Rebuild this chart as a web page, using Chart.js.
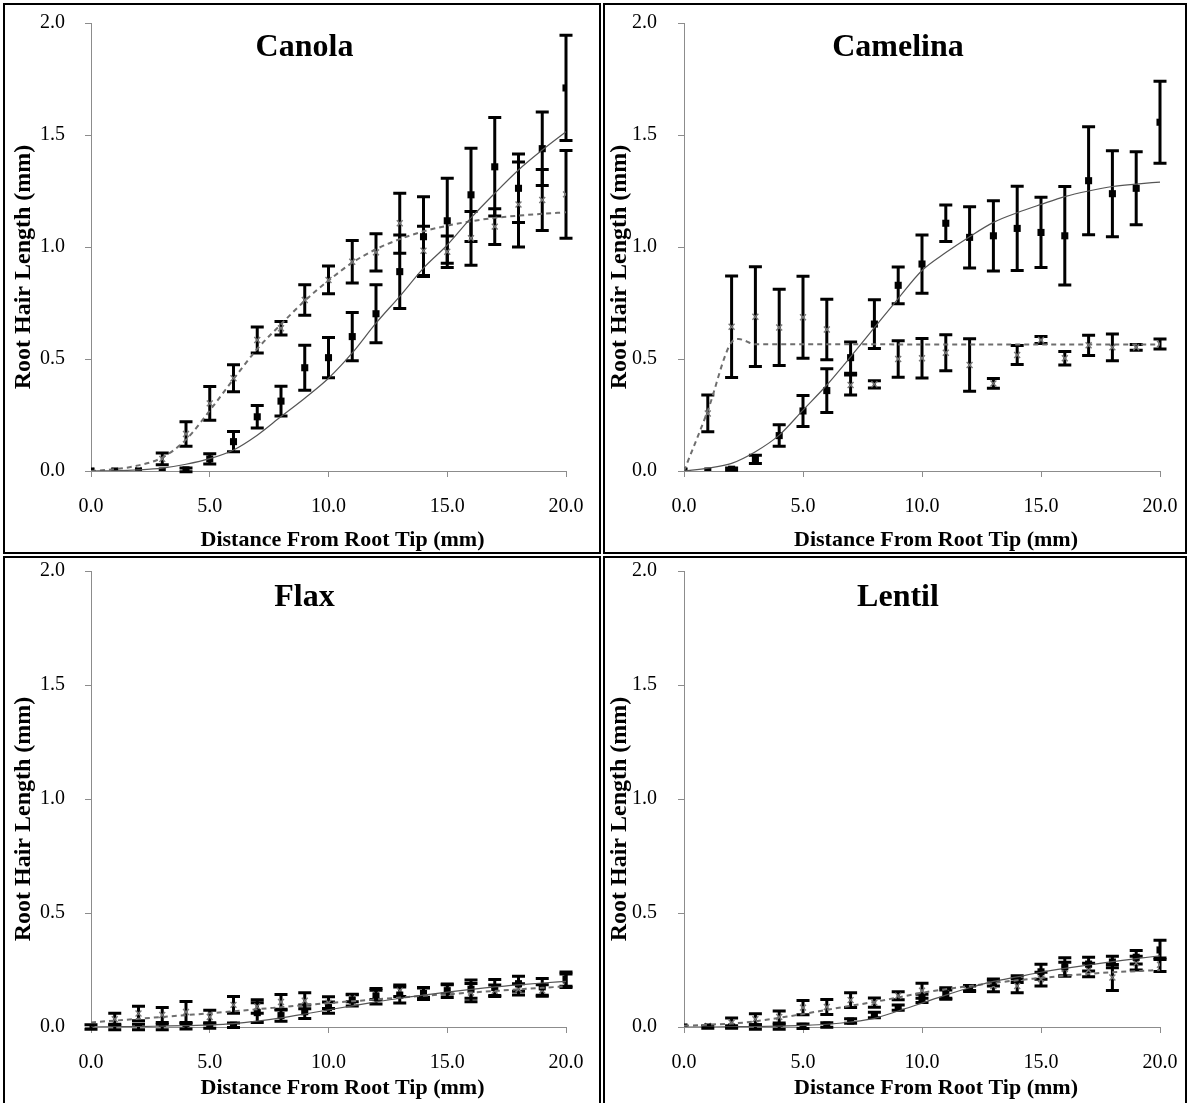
<!DOCTYPE html>
<html>
<head>
<meta charset="utf-8">
<script src="https://cdn.jsdelivr.net/npm/chart.js@4.4.1/dist/chart.umd.min.js"></script>
<style>
  body { margin: 0; background: #fff; width: 1188px; height: 1103px; overflow: hidden; position: relative; }
  .box { position: absolute; border: 2px solid #000; box-sizing: border-box; }
  canvas { position: absolute; }
</style>
</head>
<body>
<div class="box" style="left:3px;top:3px;width:598px;height:551px"></div>
<div class="box" style="left:603px;top:3px;width:584px;height:551px"></div>
<div class="box" style="left:3px;top:556px;width:598px;height:560px"></div>
<div class="box" style="left:603px;top:556px;width:584px;height:560px"></div>

<canvas id="canola" width="600" height="546" style="left:6px;top:6px"></canvas>
<canvas id="camelina" width="596" height="546" style="left:606px;top:6px"></canvas>
<canvas id="flax" width="600" height="546" style="left:6px;top:557px"></canvas>
<canvas id="lentil" width="596" height="546" style="left:606px;top:557px"></canvas>

<script>
// distance from root tip (mm)
const distance = [0, 1, 2, 3, 4, 5, 6, 7, 8, 9, 10, 11, 12, 13, 14, 15, 16, 17, 18, 19, 20];

// Canola
const canolaSquare = [0, 0, 0, 0, 0.005, 0.054, 0.131, 0.242, 0.312, 0.461, 0.506, 0.60, 0.702, 0.89, 1.046, 1.117, 1.233, 1.358, 1.262, 1.439, 1.71];
const canolaSquareErr = [0, 0, 0, 0, 0.008, 0.023, 0.045, 0.05, 0.066, 0.10, 0.09, 0.108, 0.13, 0.164, 0.178, 0.19, 0.208, 0.22, 0.153, 0.164, 0.235];
const canolaCross = [0, 0, 0.005, 0.054, 0.165, 0.302, 0.414, 0.585, 0.637, 0.763, 0.853, 0.934, 0.976, 1.106, 0.983, 0.979, 1.039, 1.091, 1.19, 1.21, 1.235];
const canolaCrossErr = [0, 0, 0, 0.026, 0.055, 0.075, 0.06, 0.058, 0.03, 0.068, 0.062, 0.095, 0.083, 0.134, 0.11, 0.07, 0.12, 0.08, 0.19, 0.136, 0.196];
const canolaSquareFit = [0, 0.001, 0.005, 0.013, 0.03, 0.055, 0.094, 0.16, 0.243, 0.325, 0.414, 0.527, 0.66, 0.78, 0.906, 1.009, 1.13, 1.24, 1.344, 1.433, 1.515];
const canolaCrossFit = [0, 0.008, 0.025, 0.06, 0.14, 0.27, 0.41, 0.545, 0.655, 0.76, 0.85, 0.93, 0.99, 1.035, 1.07, 1.095, 1.115, 1.13, 1.14, 1.148, 1.155];

// Camelina
const camelinaSquare = [0, 0, 0.008, 0.052, 0.158, 0.268, 0.359, 0.506, 0.656, 0.829, 0.924, 1.106, 1.043, 1.05, 1.083, 1.065, 1.05, 1.296, 1.238, 1.262, 1.557];
const camelinaSquareErr = [0, 0, 0.005, 0.018, 0.048, 0.069, 0.098, 0.07, 0.109, 0.082, 0.13, 0.081, 0.137, 0.157, 0.188, 0.157, 0.22, 0.241, 0.192, 0.163, 0.183];
const camelinaCross = [0, 0.257, 0.644, 0.689, 0.641, 0.686, 0.632, 0.384, 0.387, 0.5, 0.503, 0.528, 0.473, 0.391, 0.518, 0.585, 0.503, 0.561, 0.552, 0.552, 0.567];
const camelinaCrossErr = [0, 0.082, 0.227, 0.223, 0.17, 0.183, 0.135, 0.045, 0.016, 0.082, 0.088, 0.08, 0.117, 0.022, 0.042, 0.016, 0.03, 0.045, 0.06, 0.013, 0.022];
const camelinaSquareFit = [0, 0.013, 0.034, 0.086, 0.16, 0.272, 0.384, 0.51, 0.64, 0.77, 0.895, 0.975, 1.046, 1.11, 1.153, 1.19, 1.225, 1.25, 1.27, 1.281, 1.29];
const camelinaCrossFitX = [0, 1, 2, 2.3, 3, 20];
const camelinaCrossFit = [0, 0.27, 0.575, 0.589, 0.566, 0.565];

// Flax
const flaxSquare = [0, 0, 0, 0, 0.003, 0.007, 0.008, 0.063, 0.05, 0.067, 0.085, 0.118, 0.135, 0.14, 0.147, 0.159, 0.166, 0.173, 0.19, 0.176, 0.21];
const flaxSquareErr = [0.01, 0.012, 0.012, 0.012, 0.012, 0.012, 0.01, 0.043, 0.025, 0.03, 0.025, 0.026, 0.034, 0.035, 0.026, 0.03, 0.04, 0.035, 0.033, 0.037, 0.031];
const flaxCross = [0, 0.034, 0.059, 0.053, 0.066, 0.044, 0.097, 0.09, 0.11, 0.115, 0.107, 0.126, 0.141, 0.159, 0.151, 0.165, 0.151, 0.159, 0.165, 0.16, 0.203];
const flaxCrossErr = [0, 0.026, 0.032, 0.033, 0.046, 0.03, 0.037, 0.03, 0.032, 0.035, 0.026, 0.015, 0.02, 0.025, 0.02, 0.02, 0.04, 0.025, 0.025, 0.025, 0.03];
const flaxSquareFit = [0, 0.001, 0.002, 0.004, 0.006, 0.009, 0.015, 0.026, 0.04, 0.057, 0.075, 0.093, 0.11, 0.126, 0.14, 0.153, 0.165, 0.176, 0.185, 0.193, 0.2];
const flaxCrossFit = [0.02, 0.028, 0.036, 0.044, 0.052, 0.06, 0.069, 0.078, 0.087, 0.096, 0.105, 0.113, 0.121, 0.129, 0.137, 0.144, 0.151, 0.158, 0.165, 0.172, 0.178];

// Lentil
const lentilSquare = [0, 0, 0, 0, 0, 0.003, 0.009, 0.026, 0.053, 0.085, 0.126, 0.144, 0.169, 0.195, 0.21, 0.242, 0.264, 0.276, 0.285, 0.306, 0.338];
const lentilSquareErr = [0, 0.005, 0.005, 0.01, 0.01, 0.01, 0.01, 0.01, 0.012, 0.012, 0.018, 0.018, 0.013, 0.015, 0.015, 0.033, 0.04, 0.03, 0.025, 0.03, 0.042];
const lentilCross = [0, 0.005, 0.019, 0.034, 0.044, 0.085, 0.088, 0.118, 0.107, 0.137, 0.159, 0.147, 0.17, 0.18, 0.18, 0.21, 0.254, 0.25, 0.217, 0.28, 0.273];
const lentilCrossErr = [0, 0, 0.02, 0.024, 0.026, 0.031, 0.033, 0.032, 0.02, 0.018, 0.033, 0.025, 0.01, 0.025, 0.03, 0.03, 0.03, 0.03, 0.057, 0.03, 0.03];
const lentilSquareFit = [0, 0, 0.001, 0.002, 0.004, 0.007, 0.012, 0.022, 0.038, 0.07, 0.105, 0.14, 0.172, 0.2, 0.22, 0.24, 0.257, 0.272, 0.287, 0.3, 0.312];
const lentilCrossFit = [0.005, 0.01, 0.015, 0.025, 0.04, 0.057, 0.075, 0.093, 0.11, 0.13, 0.15, 0.166, 0.18, 0.193, 0.205, 0.215, 0.225, 0.233, 0.24, 0.245, 0.25];

const FONT = "'Liberation Serif', 'DejaVu Serif', serif";
Chart.defaults.font.family = FONT;
Chart.defaults.color = '#000';

// error bars, drawn under the markers
const errorBars = {
  id: 'errorBars',
  beforeDatasetsDraw(chart) {
    const { ctx, scales: { x, y } } = chart;
    ctx.save();
    ctx.strokeStyle = '#000';
    ctx.lineWidth = 3;
    chart.data.datasets.forEach(ds => {
      if (!ds.errors) return;
      ds.data.forEach((p, i) => {
        const e = ds.errors[i];
        if (!e) return;
        const px = x.getPixelForValue(p.x);
        const top = y.getPixelForValue(p.y + e);
        const bot = y.getPixelForValue(p.y - e);
        ctx.beginPath();
        ctx.moveTo(px, top); ctx.lineTo(px, bot);
        ctx.moveTo(px - 6.5, top); ctx.lineTo(px + 6.5, top);
        ctx.moveTo(px - 6.5, bot); ctx.lineTo(px + 6.5, bot);
        ctx.stroke();
      });
    });
    ctx.restore();
  }
};

// panel heading and axis titles
const panelText = {
  id: 'panelText',
  afterDraw(chart, args, o) {
    const { ctx, chartArea: a } = chart;
    const cx = (a.left + a.right) / 2;
    ctx.save();
    ctx.fillStyle = '#000';
    ctx.textAlign = 'center';
    ctx.textBaseline = 'middle';
    ctx.font = 'bold 32px ' + FONT;
    ctx.fillText(o.heading, cx - 24, a.top + o.headDy);
    ctx.font = 'bold 22px ' + FONT;
    ctx.fillText('Distance From Root Tip (mm)', cx + 14, a.bottom + o.xTitleDy);
    ctx.translate(a.left - o.yTitleDx, (a.top + a.bottom) / 2 + 20);
    ctx.rotate(-Math.PI / 2);
    ctx.font = 'bold 24px ' + FONT;
    ctx.fillText('Root Hair Length (mm)', 0, 0);
    ctx.restore();
  }
};

const pts = (xs, ys) => xs.map((x, i) => ({ x: x, y: ys[i] }));

function makePanel(id, p) {
  const axisGrid = { drawOnChartArea: false, tickLength: 6, color: '#8c8c8c' };
  new Chart(document.getElementById(id), {
    type: 'scatter',
    data: {
      datasets: [
        { data: pts(p.sqFitX || distance, p.sqFit), showLine: true, borderColor: '#555', borderWidth: 1.2,
          pointRadius: 0, cubicInterpolationMode: 'monotone' },
        { data: pts(p.crFitX || distance, p.crFit), showLine: true, borderColor: '#6e6e6e', borderWidth: 2,
          borderDash: [5, 4], pointRadius: 0, cubicInterpolationMode: 'monotone' },
        { data: pts(distance, p.sq), errors: p.sqErr, pointStyle: 'rect', pointRadius: 5,
          backgroundColor: '#000', borderColor: '#000', borderWidth: 0 },
        { data: pts(distance, p.cr), errors: p.crErr, pointStyle: 'crossRot', pointRadius: 4.2,
          borderColor: '#777', borderWidth: 1.4 }
      ]
    },
    options: {
      responsive: false,
      animation: false,
      devicePixelRatio: 1,
      layout: { padding: { left: p.left, top: p.top, right: p.right, bottom: 0 } },
      plugins: {
        legend: { display: false },
        tooltip: { enabled: false },
        panelText: { heading: p.heading, headDy: p.headDy, xTitleDy: p.xTitleDy, yTitleDx: p.yTitleDx }
      },
      scales: {
        x: {
          type: 'linear', min: 0, max: 20,
          afterFit: s => { s.height = p.xh; },
          ticks: { stepSize: 5, callback: v => v.toFixed(1), font: { size: 20 }, padding: 18, maxRotation: 0 },
          grid: axisGrid,
          border: { color: '#8c8c8c' }
        },
        y: {
          min: 0, max: 2,
          afterFit: s => { s.width = p.yw; },
          ticks: { stepSize: 0.5, callback: v => v.toFixed(1), font: { size: 20 }, padding: 0, crossAlign: 'far' },
          grid: axisGrid,
          border: { color: '#8c8c8c' }
        }
      }
    },
    plugins: [errorBars, panelText]
  });
}

makePanel('canola', {
  heading: 'Canola', sq: canolaSquare, sqErr: canolaSquareErr, cr: canolaCross, crErr: canolaCrossErr,
  sqFit: canolaSquareFit, crFit: canolaCrossFit,
  left: 34, top: 17, right: 40, xh: 81, yw: 51, headDy: 25, xTitleDy: 69, yTitleDx: 67
});
makePanel('camelina', {
  heading: 'Camelina', sq: camelinaSquare, sqErr: camelinaSquareErr, cr: camelinaCross, crErr: camelinaCrossErr,
  sqFit: camelinaSquareFit, crFit: camelinaCrossFit, crFitX: camelinaCrossFitX,
  left: 26, top: 17, right: 42, xh: 81, yw: 52, headDy: 25, xTitleDy: 69, yTitleDx: 64
});
makePanel('flax', {
  heading: 'Flax', sq: flaxSquare, sqErr: flaxSquareErr, cr: flaxCross, crErr: flaxCrossErr,
  sqFit: flaxSquareFit, crFit: flaxCrossFit,
  left: 34, top: 14, right: 40, xh: 76, yw: 51, headDy: 27, xTitleDy: 61, yTitleDx: 67
});
makePanel('lentil', {
  heading: 'Lentil', sq: lentilSquare, sqErr: lentilSquareErr, cr: lentilCross, crErr: lentilCrossErr,
  sqFit: lentilSquareFit, crFit: lentilCrossFit,
  left: 26, top: 14, right: 42, xh: 76, yw: 52, headDy: 27, xTitleDy: 61, yTitleDx: 64
});
</script>
</body>
</html>
